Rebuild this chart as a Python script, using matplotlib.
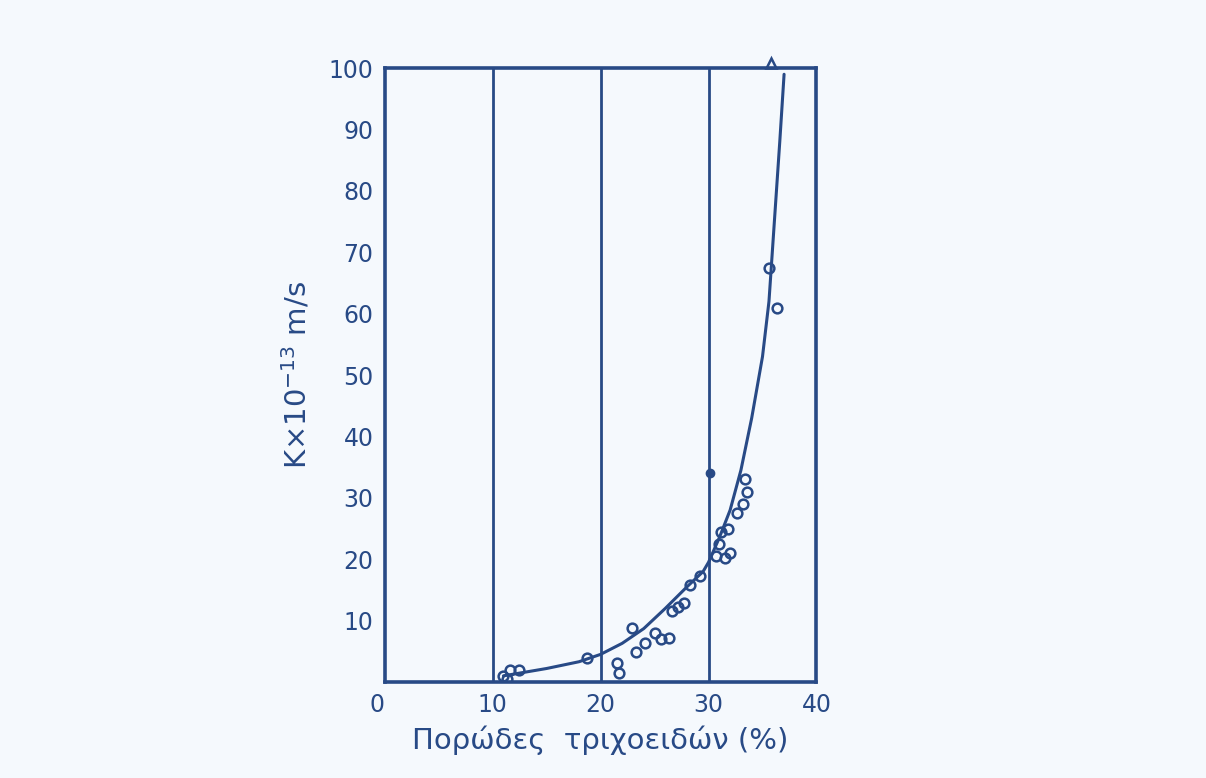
import matplotlib
matplotlib.use("Agg")
import matplotlib.pyplot as plt

INK = "#284a86"
PAPER = "#f5f9fd"

# measured points (open circles)
pts_x = [11.0, 11.6, 12.4, 11.3, 18.7, 21.5, 21.7, 22.9, 23.3, 24.1, 25.0,
         25.6, 26.3, 26.6, 27.2, 27.7, 28.3, 29.2,
         30.7, 31.0, 31.5, 31.2, 31.8, 32.0, 32.6, 33.2, 33.6, 33.4,
         35.6, 36.3]
pts_y = [1.0, 2.0, 2.0, 0.5, 3.9, 3.1, 1.5, 8.8, 4.9, 6.3, 8.0,
         7.0, 7.2, 11.5, 12.2, 12.8, 15.8, 17.2,
         20.5, 22.5, 20.2, 24.5, 25.0, 21.0, 27.5, 29.0, 31.0, 33.0,
         67.4, 61.0]
# filled dot and triangle
dot_x, dot_y = [30.1], [34.0]
tri_x, tri_y = [35.8], [100.8]

# hand-drawn trend curve
curve_x = [11.0, 13.0, 15.0, 18.0, 20.0, 22.0, 24.0, 26.0, 28.0, 29.5,
           30.0, 31.0, 32.0, 33.0, 34.0, 35.0, 35.6, 36.1, 36.6, 37.0]
curve_y = [1.0, 1.6, 2.2, 3.3, 4.5, 6.3, 8.7, 12.0, 15.5, 18.0,
           19.5, 23.5, 28.0, 34.5, 43.0, 53.0, 62.0, 75.0, 88.0, 99.0]

x_ticks = [0, 10, 20, 30, 40]
y_ticks = [10, 20, 30, 40, 50, 60, 70, 80, 90, 100]
grid_x = [10, 20, 30]

fig = plt.figure(figsize=(12.06, 7.78), dpi=100, facecolor=PAPER)
ax = fig.add_axes([0.319, 0.1234, 0.358, 0.789])
ax.set_facecolor(PAPER)

for gx in grid_x:
    ax.axvline(gx, color=INK, lw=2.0)

ax.plot(curve_x, curve_y, color=INK, lw=2.2, solid_capstyle="round")
ax.plot(pts_x, pts_y, "o", mfc="none", mec=INK, mew=1.8, ms=7)
ax.plot(dot_x, dot_y, "o", color=INK, ms=6)
ax.plot(tri_x, tri_y, "^", mfc="none", mec=INK, mew=1.8, ms=7, clip_on=False)

ax.set_xlim(0, 40)
ax.set_ylim(0, 100)
for s in ax.spines.values():
    s.set_color(INK)
    s.set_linewidth(2.6)

ax.set_xticks(x_ticks)
ax.set_yticks(y_ticks)
ax.tick_params(length=0, colors=INK, labelsize=17, pad=8)
ax.set_xticklabels([str(v) for v in x_ticks])
ax.get_xticklabels()[0].set_horizontalalignment("right")

ax.set_xlabel("Πορώδες  τριχοειδών (%)", fontsize=21, color=INK, labelpad=6)
ax.set_ylabel(r"K$\times$10$^{-13}$ m/s", fontsize=21, color=INK, labelpad=12)

fig.savefig("out.png", dpi=100, facecolor=PAPER)
